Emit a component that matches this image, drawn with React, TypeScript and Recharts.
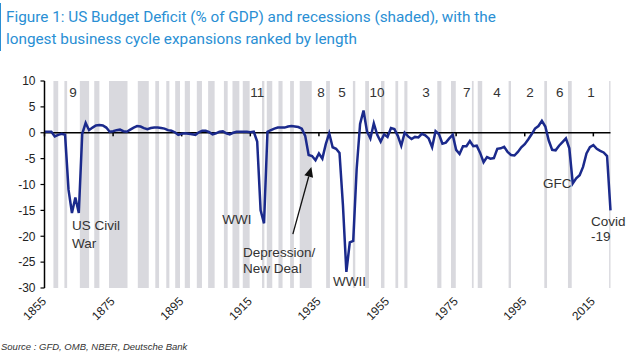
import React from 'react';
import { LineChart, Line, XAxis, YAxis, ReferenceArea, ReferenceLine, ReferenceDot } from 'recharts';

const firstYear = 1855;
// US budget balance, % of GDP (annual, 1855-2020)
const deficit = [
  0.2, 0.2, 0.2, -0.7, -0.4, -0.2, -0.4, -11.0, -15.5, -12.5,
  -15.5, -0.2, 1.9, 0.5, 1.0, 1.4, 1.5, 1.4, 1.0, 0.2,
  0.3, 0.5, 0.6, 0.3, 0.2, 0.6, 1.0, 1.3, 1.2, 0.9,
  0.7, 0.9, 1.0, 1.0, 0.9, 0.8, 0.5, 0.4, 0.1, -0.4,
  -0.2, -0.1, -0.2, -0.3, -0.4, 0.1, 0.4, 0.4, 0.1, -0.3,
  -0.1, 0.2, 0.3, -0.1, -0.3, 0.0, 0.2, 0.2, 0.2, 0.2,
  0.1, 0.2, -1.7, -15.0, -17.5, 0.2, 0.5, 0.8, 1.0, 1.0,
  1.0, 1.2, 1.3, 1.2, 1.1, 0.8, -0.6, -4.3, -4.5, -5.3,
  -4.0, -5.0, -2.2, -0.1, -2.8, -3.1, -3.9, -14.0, -26.9, -21.2,
  -20.9, -7.0, 1.7, 4.3, 0.3, -1.1, 1.8, -0.4, -1.7, -0.3,
  -0.8, 0.9, 0.7, -0.6, -2.5, 0.0, -0.7, -1.2, -0.8, -0.9,
  -0.2, -0.5, -1.1, -2.8, 0.3, -0.3, -2.1, -1.9, -1.1, -0.4,
  -3.3, -4.1, -2.6, -2.6, -1.6, -2.6, -2.5, -3.9, -5.7, -4.7,
  -5.0, -4.9, -3.1, -3.0, -2.7, -3.7, -4.3, -4.4, -3.7, -2.8,
  -2.2, -1.3, -0.3, 0.8, 1.3, 2.3, 1.2, -1.5, -3.3, -3.4,
  -2.5, -1.8, -1.1, -3.0, -9.8, -8.8, -8.2, -6.6, -4.0, -2.8,
  -2.4, -3.1, -3.5, -3.8, -4.5, -15.0,
];

// Recession periods (shaded), start/end year
const recessionStarts = [1857.6, 1860.8, 1865.3, 1869.5, 1873.8, 1882.2, 1887.3, 1890.5, 1893.1, 1895.9, 1899.4, 1902.7, 1907.3, 1909.8, 1912.8, 1918.4, 1919.8, 1923.2, 1926.6, 1929.4, 1937.1, 1944.9, 1948.5, 1953.1, 1957.3, 1959.9, 1969.5, 1973.5, 1979.6, 1981.3, 1990.3, 2000.7, 2007.6, 2019.6];
const recessionEnds = [1859.0, 1861.6, 1868.0, 1871.0, 1879.2, 1885.4, 1888.4, 1891.4, 1894.5, 1897.4, 1900.9, 1904.6, 1908.4, 1911.8, 1914.8, 1919.1, 1921.4, 1924.4, 1927.7, 1932.9, 1938.2, 1945.6, 1949.6, 1954.1, 1958.1, 1960.8, 1970.7, 1974.9, 1980.1, 1982.6, 1991.0, 2001.5, 2008.7, 2020.0];

// Expansion ranks (by length) and where they sit
const rankLabels = ['9', '11', '8', '5', '10', '3', '7', '4', '2', '6', '1'];
const rankYears = [1863.3, 1917.0, 1935.6, 1941.7, 1951.9, 1966.2, 1978.1, 1986.9, 1996.5, 2005.2, 2014.3];

const xTicks = [1855, 1875, 1895, 1915, 1935, 1955, 1975, 1995, 2015];
const yTicks = [10, 5, 0, -5, -10, -15, -20, -25, -30];

// Annotations: text, year of left edge, value of baseline
const noteTexts = ['US Civil', 'War', 'WWI', 'Depression/', 'New Deal', 'WWII', 'GFC', 'Covid', '-19'];
const noteYears = [1863.0, 1863.0, 1906.8, 1912.9, 1912.9, 1939.1, 2000.3, 2014.3, 2014.3];
const noteValues = [-18.8, -22.2, -17.6, -24.0, -27.1, -29.6, -10.7, -18.0, -20.9];

const data = deficit.map((v, i) => ({ year: firstYear + i, deficit: v }));

const FONT = '"Liberation Sans", Arial, Helvetica, sans-serif';

const XTick = (props: any) => {
  const { x, y, payload } = props;
  const ax = x + 2.5;
  const ay = y + 6;
  return (
    <text x={ax} y={ay} transform={`rotate(-45, ${ax}, ${ay})`} textAnchor="end" fontSize={12} fill="#222" fontFamily={FONT}>
      {payload.value}
    </text>
  );
};

const Arrow = (props: any) => {
  const { x1, y1, x2, y2 } = props;
  const dx = x2 - x1;
  const dy = y2 - y1;
  const len = Math.sqrt(dx * dx + dy * dy) || 1;
  const ux = dx / len;
  const uy = dy / len;
  const hl = 10;
  const hw = 4.5;
  const bx = x2 - ux * hl;
  const by = y2 - uy * hl;
  const px = -uy;
  const py = ux;
  return (
    <g>
      <line x1={x1} y1={y1} x2={bx} y2={by} stroke="#111" strokeWidth={1.3} />
      <polygon points={`${x2},${y2} ${bx + px * hw},${by + py * hw} ${bx - px * hw},${by - py * hw}`} fill="#111" />
    </g>
  );
};

const makeText = (txt: string, anchor: 'start' | 'middle') => (p: any) => (
  <text x={p.cx} y={p.cy} textAnchor={anchor} fontSize={13.5} fill="#333" fontFamily={FONT}>
    {txt}
  </text>
);

export default function App() {
  return (
    <div style={{ position: 'absolute', left: 0, top: 0, width: 640, height: 359, background: '#fff', overflow: 'hidden' }}>
      <div style={{ position: 'absolute', left: 0, top: 3, width: 1, height: 48, background: '#2a8fd4' }} />
      <div
        style={{
          position: 'absolute',
          left: 6,
          top: 6,
          fontFamily: 'Roboto, sans-serif',
          fontSize: 15.3,
          lineHeight: '22px',
          color: '#2a8fd4',
          whiteSpace: 'nowrap',
        }}
      >
        <div>Figure 1: US Budget Deficit (% of GDP) and recessions (shaded), with the</div>
        <div>longest business cycle expansions ranked by length</div>
      </div>
      <div style={{ position: 'absolute', left: 0, top: 0 }}>
        <LineChart width={640} height={359} data={data} margin={{ top: 81, right: 29.5, bottom: 41, left: 4.5 }}>
          {recessionStarts.map((s, i) => (
            <ReferenceArea key={'r' + i} x1={s} x2={recessionEnds[i]} fill="#d9d9de" fillOpacity={1} stroke="none" />
          ))}
          <XAxis
            dataKey="year"
            type="number"
            domain={[1855, 2020]}
            ticks={xTicks}
            interval={0}
            axisLine={false}
            tickLine={false}
            tickSize={6}
            tickMargin={2}
            height={30}
            tick={<XTick />}
          />
          <YAxis
            domain={[-30, 10]}
            ticks={yTicks}
            interval={0}
            width={40}
            axisLine={{ stroke: '#000', strokeWidth: 1.5 }}
            tickLine={{ stroke: '#000', strokeWidth: 1.2 }}
            tickSize={4}
            tickMargin={5}
            tick={{ fontSize: 12, fill: '#222', fontFamily: FONT }}
          />
          <ReferenceLine y={0} stroke="#000" strokeWidth={1.5} />
          {xTicks.map((t) => (
            <ReferenceLine key={'t' + t} segment={[{ x: t, y: 0 }, { x: t, y: -0.7 }]} stroke="#000" strokeWidth={1.5} />
          ))}
          <Line type="linear" dataKey="deficit" stroke="#1b2a8c" strokeWidth={2.5} dot={false} activeDot={false} isAnimationActive={false} />
          {rankLabels.map((l, i) => (
            <ReferenceDot key={'k' + i} x={rankYears[i]} y={7} r={0} shape={makeText(l, 'middle')} />
          ))}
          {noteTexts.map((n, i) => (
            <ReferenceDot key={'n' + i} x={noteYears[i]} y={noteValues[i]} r={0} shape={makeText(n, 'start')} />
          ))}
          <ReferenceLine segment={[{ x: 1927.4, y: -19.6 }, { x: 1932.8, y: -6.6 }]} shape={<Arrow />} />
        </LineChart>
      </div>
      <div
        style={{
          position: 'absolute',
          left: 1,
          top: 341,
          fontFamily: FONT,
          fontStyle: 'italic',
          fontSize: 9.5,
          lineHeight: '12px',
          color: '#333',
          whiteSpace: 'nowrap',
        }}
      >
        Source : GFD, OMB, NBER, Deutsche Bank
      </div>
    </div>
  );
}
